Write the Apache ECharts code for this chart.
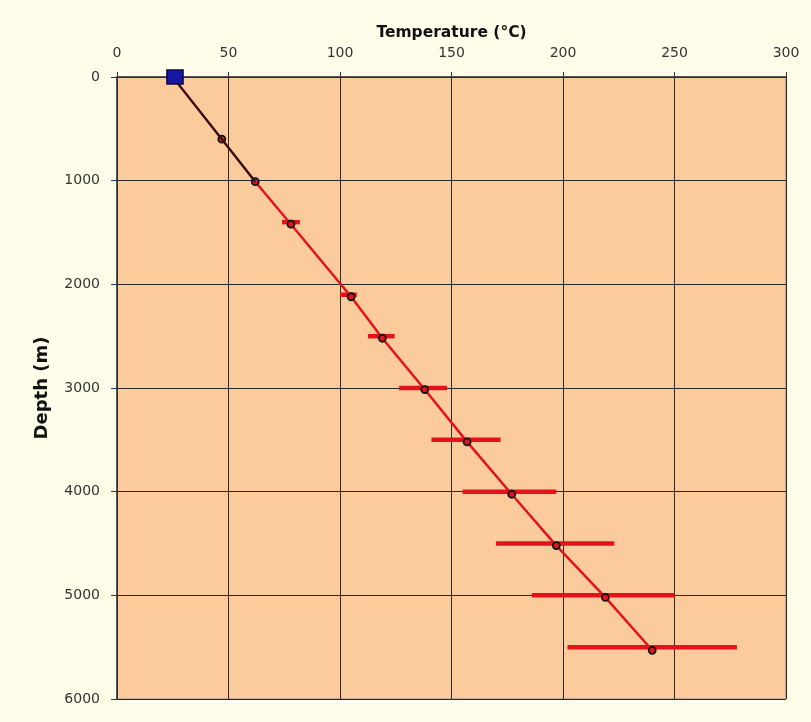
<!DOCTYPE html>
<html><head><meta charset="utf-8">
<script src="https://cdn.jsdelivr.net/npm/echarts@6/dist/echarts.min.js"></script>
<style>html,body{margin:0;padding:0;background:#FEFDEA;}#c{width:811px;height:722px;}</style>
</head><body><div id="c"></div>
<script>
const depths   = [0, 600, 1010, 1420, 2120, 2520, 3015, 3520, 4025, 4520, 5020, 5530];
const temps    = [25, 47, 62, 78, 105, 119, 138, 157, 177, 197, 219, 240];
const errDepth = [1400, 2100, 2500, 3000, 3500, 4000, 4500, 5000, 5500];
const errLow   = [74, 100, 112.5, 126.5, 141, 155, 170, 186, 202];
const errHigh  = [82, 107.5, 124.5, 148, 172, 197, 223, 250, 278];
const blackDepths = [0, 600, 1010];
const blackTemps  = [25, 47, 62];
const surfaceT = 26, surfaceD = 0;
const xTicks = [0, 300, 50];
const yTicks = [0, 6000, 1000];

const chart = echarts.init(document.getElementById('c'));
const font = 'DejaVu Sans';
chart.setOption({
  backgroundColor: '#FEFDEA',
  animation: false,
  grid: {left: 117, top: 77, width: 669, height: 622, show: true,
         backgroundColor: '#FCCB9C', borderColor: '#8a8a8a', borderWidth: 1},
  xAxis: {type: 'value', position: 'top', min: xTicks[0], max: xTicks[1], interval: xTicks[2],
    name: 'Temperature (°C)', nameLocation: 'middle', nameGap: 33,
    nameTextStyle: {fontFamily: font, fontWeight: 'bold', fontSize: 15.5, color: '#111'},
    axisLine: {show: true, onZero: false, lineStyle: {color: '#333', width: 1.5}},
    axisTick: {show: true, length: 5, inside: false, lineStyle: {color: '#333'}},
    axisLabel: {fontFamily: font, fontSize: 14, color: '#333', margin: 17},
    splitLine: {show: true, lineStyle: {color: '#2a2a2a', width: 1}}},
  yAxis: {type: 'value', inverse: true, min: yTicks[0], max: yTicks[1], interval: yTicks[2],
    name: 'Depth (m)', nameLocation: 'middle', nameGap: 66, nameRotate: 90,
    nameTextStyle: {fontFamily: font, fontWeight: 'bold', fontSize: 18, color: '#111'},
    axisLine: {show: true, onZero: false, lineStyle: {color: '#333', width: 1.5}},
    axisTick: {show: true, length: 6, lineStyle: {color: '#333'}},
    axisLabel: {fontFamily: font, fontSize: 14, color: '#333', margin: 17,
                formatter: v => String(v)},
    splitLine: {show: true, lineStyle: {color: '#2a2a2a', width: 1}}},
  series: [
    {type: 'custom', z: 3,
     data: errDepth.map((d, i) => [errLow[i], errHigh[i], d]),
     renderItem: function (params, api) {
       const a = api.coord([api.value(0), api.value(2)]);
       const b = api.coord([api.value(1), api.value(2)]);
       return {type: 'line', shape: {x1: a[0], y1: a[1], x2: b[0], y2: b[1]},
               style: {stroke: '#E3131B', lineWidth: 4.5}};
     }},
    {type: 'line', z: 4, data: depths.map((d, i) => [temps[i], d]),
     lineStyle: {color: '#E3131B', width: 2.5}, symbol: 'circle', symbolSize: 7,
     itemStyle: {color: '#E3131B', borderColor: '#111', borderWidth: 1.8}},
    {type: 'line', z: 5, data: blackDepths.map((d, i) => [blackTemps[i], d]),
     lineStyle: {color: '#1a1a1a', width: 2}, symbol: 'none'},
    {type: 'scatter', z: 6, data: [[surfaceT, surfaceD]], symbol: 'rect', symbolSize: [16, 14],
     itemStyle: {color: '#1616A6', borderColor: '#0a0a40', borderWidth: 1.5, opacity: 1}}
  ]
});
</script></body></html>
